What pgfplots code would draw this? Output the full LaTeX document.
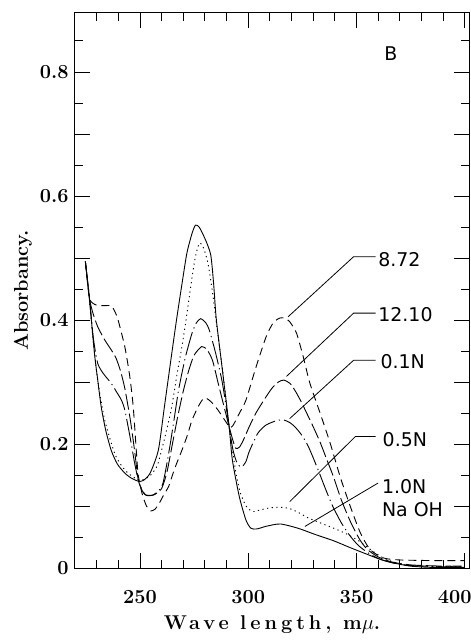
\documentclass[border=0pt]{standalone}
\usepackage{fontspec}
\newfontfamily\labelsans{DejaVu Sans}
\newfontfamily\spacedrm[LetterSpace=20]{Latin Modern Roman}
\usepackage{pgfplots}
\pgfplotsset{compat=1.18}

% absorbancy spectra, panel B
\pgfplotstableread{
x y
224.8 0.494
226.7 0.432
229.0 0.346
230.5 0.303
232.1 0.260
234.2 0.222
236.7 0.190
239.5 0.168
243.0 0.153
246.0 0.145
249.2 0.140
251.5 0.141
254.7 0.153
258.5 0.190
261.3 0.260
264.7 0.346
267.1 0.405
269.5 0.460
271.7 0.508
274.1 0.540
275.7 0.553
277.5 0.549
280.3 0.529
282.7 0.505
284.0 0.460
285.3 0.400
288.1 0.319
291.2 0.228
292.7 0.174
295.9 0.115
299.0 0.077
301.3 0.064
304.0 0.063
308.0 0.067
312.0 0.070
315.0 0.071
319.0 0.068
324.0 0.063
331.0 0.054
339.4 0.044
347.0 0.033
355.0 0.022
361.0 0.014
367.4 0.008
375.0 0.003
385.0 0.001
400.0 0.001
}\onenaoh

\pgfplotstableread{
x y
224.8 0.494
226.5 0.440
228.2 0.373
230.5 0.303
233.7 0.239
238.3 0.185
241.5 0.165
244.5 0.153
249.2 0.142
252.0 0.143
255.0 0.150
258.0 0.165
260.0 0.190
262.5 0.225
264.7 0.260
267.0 0.310
269.4 0.357
271.5 0.405
273.3 0.450
275.5 0.500
277.5 0.524
279.5 0.515
281.5 0.490
283.5 0.445
285.5 0.390
288.3 0.315
291.2 0.228
293.0 0.185
294.5 0.150
296.5 0.120
299.0 0.100
302.0 0.091
306.0 0.094
310.0 0.097
314.5 0.098
319.0 0.096
323.0 0.090
327.0 0.082
331.0 0.076
336.0 0.069
341.0 0.062
346.0 0.054
351.0 0.044
356.0 0.031
361.0 0.019
366.0 0.011
372.0 0.005
380.0 0.003
400.0 0.002
}\halfn

\pgfplotstableread{
x y
224.8 0.494
226.7 0.435
228.5 0.370
230.5 0.330
233.0 0.314
236.7 0.298
239.0 0.285
241.4 0.271
243.0 0.255
245.5 0.210
247.5 0.170
249.2 0.142
251.0 0.125
252.5 0.118
256.2 0.118
260.1 0.131
262.0 0.160
264.0 0.200
266.0 0.245
268.0 0.290
271.0 0.340
274.0 0.378
276.0 0.395
278.0 0.402
280.3 0.396
282.0 0.384
285.0 0.346
288.1 0.298
291.2 0.228
293.0 0.190
295.0 0.168
297.0 0.163
299.0 0.172
300.5 0.188
304.4 0.217
308.0 0.230
311.0 0.235
313.5 0.238
316.1 0.239
319.0 0.235
321.5 0.228
324.6 0.215
327.5 0.198
330.0 0.178
333.0 0.152
336.0 0.125
339.0 0.100
343.0 0.073
347.0 0.052
351.0 0.036
356.0 0.023
361.0 0.014
367.0 0.008
375.0 0.004
390.0 0.002
400.0 0.002
}\tenthn

\pgfplotstableread{
x y
224.8 0.494
226.7 0.435
228.2 0.412
230.5 0.389
233.7 0.368
236.7 0.352
239.0 0.338
241.0 0.318
243.0 0.290
245.5 0.240
247.5 0.190
249.2 0.142
251.0 0.126
253.0 0.117
256.5 0.118
260.0 0.128
262.5 0.155
265.0 0.200
267.5 0.245
270.0 0.285
272.5 0.318
275.0 0.343
278.5 0.357
281.0 0.352
283.5 0.335
286.0 0.300
288.5 0.265
291.2 0.228
293.0 0.205
294.3 0.193
296.0 0.195
298.0 0.208
300.5 0.228
303.6 0.250
307.5 0.272
311.0 0.290
314.0 0.300
316.5 0.303
319.5 0.297
322.0 0.284
324.5 0.268
327.0 0.250
330.0 0.228
333.2 0.203
336.3 0.175
339.4 0.147
343.0 0.110
347.2 0.075
351.5 0.046
355.0 0.030
360.0 0.018
366.0 0.010
375.0 0.005
390.0 0.003
400.0 0.003
}\phtwelve

\pgfplotstableread{
x y
224.8 0.494
226.7 0.435
229.8 0.424
233.7 0.423
236.7 0.423
238.5 0.413
239.9 0.400
243.0 0.357
245.3 0.309
246.9 0.260
248.4 0.185
249.2 0.150
251.0 0.120
253.0 0.100
255.0 0.092
257.0 0.095
259.0 0.105
261.0 0.118
263.2 0.131
266.0 0.160
269.4 0.190
272.0 0.215
274.1 0.239
277.2 0.262
279.5 0.274
281.5 0.272
283.4 0.266
286.0 0.255
288.1 0.244
290.4 0.232
291.5 0.226
293.0 0.230
296.0 0.250
299.0 0.271
303.7 0.325
308.3 0.373
311.5 0.395
314.5 0.403
317.0 0.403
319.2 0.397
322.3 0.379
325.4 0.341
328.5 0.298
333.2 0.250
337.9 0.201
342.5 0.147
347.2 0.099
351.9 0.056
356.5 0.029
362.7 0.016
370.0 0.013
385.0 0.012
400.0 0.012
}\pheight

\begin{document}
\begin{tikzpicture}
\begin{axis}[
    scale only axis, width=394bp, height=555bp,
    xmin=220, xmax=402, ymin=0, ymax=0.895,
    xtick={250,300,350,400},
    xticklabels={250,300,350,\kern-20bp 400},
    minor xtick={230,240,260,270,280,290,310,320,330,340,360,370,380,390},
    ytick={0,0.1,0.2,0.3,0.4,0.5,0.6,0.7,0.8},
    yticklabels={0,,0.2,,0.4,,0.6,,0.8},
    minor ytick={0.05,0.15,0.25,0.35,0.45,0.55,0.65,0.75,0.85},
    tick align=inside, major tick length=15bp, minor tick length=8bp,
    tick style={black, line width=0.8bp},
    axis line style={line width=1bp},
    ticklabel style={font=\bfseries\fontsize{20}{24}\selectfont},
    xticklabel style={yshift=-19bp},
    yticklabel style={xshift=-3bp},
    label style={font=\bfseries\fontsize{20}{24}\selectfont},
    xlabel={{\spacedrm\bfseries Wave length, m}$\mu$.},
    ylabel={Absorbancy.},
    xlabel style={at={(axis description cs:0.5,-0.1027)}, anchor=center},
    ylabel style={at={(axis description cs:-0.132,0.5)}, anchor=center},
    every axis plot/.append style={black, line width=0.9bp, smooth, tension=0.4},
]
\addplot[solid] table {\onenaoh};
\addplot[dash pattern=on 1.2bp off 3.5bp] table {\halfn};
\addplot[dash pattern=on 24bp off 4bp on 1.2bp off 4bp] table {\tenthn};
\addplot[dash pattern=on 16bp off 4bp] table {\phtwelve};
\addplot[dash pattern=on 8bp off 5bp] table {\pheight};

% leaders and labels
\begin{scope}[line width=0.8bp, font=\labelsans\fontsize{19}{22}\selectfont]
\draw (axis cs:318.4,0.405) -- (axis cs:348.7,0.502) -- (axis cs:358.9,0.502);
\node[anchor=west, inner sep=1bp] at (axis cs:359.5,0.497) {8.72};
\draw (axis cs:317.7,0.309) -- (axis cs:348.7,0.411) -- (axis cs:358.9,0.411);
\node[anchor=west, inner sep=1bp] at (axis cs:359.5,0.409) {12.10};
\draw (axis cs:319.2,0.241) -- (axis cs:348.7,0.335) -- (axis cs:358.9,0.335);
\node[anchor=west, inner sep=1bp] at (axis cs:360.5,0.333) {0.1N};
\draw (axis cs:319.2,0.107) -- (axis cs:349.5,0.212) -- (axis cs:358.9,0.212);
\node[anchor=west, inner sep=1bp] at (axis cs:361.5,0.207) {0.5N};
\draw (axis cs:326.2,0.067) -- (axis cs:360.0,0.137);
\node[anchor=west, inner sep=1bp] at (axis cs:361.2,0.131) {1.0N};
\node[anchor=west, inner sep=1bp] at (axis cs:361.2,0.094) {Na OH};
\node at (axis cs:365.9,0.830) {B};
\end{scope}
\end{axis}
\pgfresetboundingbox
\path (current axis.south west) ++(-75bp,-73bp) rectangle ++(471bp,641bp);
\end{tikzpicture}
\end{document}
